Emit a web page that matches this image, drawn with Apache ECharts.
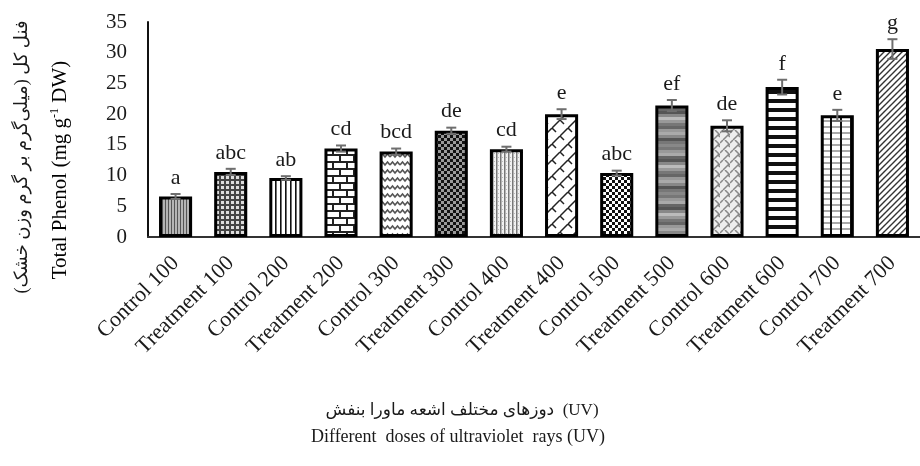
<!DOCTYPE html>
<html>
<head>
<meta charset="utf-8">
<script src="https://cdn.jsdelivr.net/npm/echarts@6/dist/echarts.min.js"></script>
<style>
html,body{margin:0;padding:0;background:#fff;}
#chart{width:920px;height:466px;}
</style>
</head>
<body>
<div id="chart"></div>
<script>
// ---- data ----
const categories = ['Control 100','Treatment 100','Control 200','Treatment 200','Control 300','Treatment 300','Control 400','Treatment 400','Control 500','Treatment 500','Control 600','Treatment 600','Control 700','Treatment 700'];
const values = [6.6, 10.6, 9.6, 14.4, 13.9, 17.3, 14.3, 20.0, 10.4, 21.4, 18.1, 24.4, 19.8, 30.6];
const errors = [0.4, 0.5, 0.3, 0.5, 0.5, 0.5, 0.4, 0.8, 0.4, 0.9, 0.9, 1.2, 0.9, 1.6];
const letters = ['a','abc','ab','cd','bcd','de','cd','e','abc','ef','de','f','e','g'];
const yTicks = [0, 5, 10, 15, 20, 25, 30, 35];

// ---- pattern fills ----
function mk(w, h, draw) {
  const c = document.createElement('canvas');
  c.width = w; c.height = h;
  const g = c.getContext('2d');
  draw(g, w, h);
  return { image: c, repeat: 'repeat' };
}
const patterns = [
  mk(3, 4, (g) => { g.fillStyle = '#b5b5b5'; g.fillRect(0,0,3,4); g.fillStyle = '#555'; g.fillRect(0,0,1,4); }),
  mk(5, 5, (g) => { g.fillStyle = '#444'; g.fillRect(0,0,5,5); g.fillStyle = '#ddd'; g.fillRect(1,1,3,3); }),
  mk(5, 4, (g) => { g.fillStyle = '#fff'; g.fillRect(0,0,5,4); g.fillStyle = '#111'; g.fillRect(0,0,1.6,4); }),
  mk(14, 14, (g) => { g.fillStyle = '#fff'; g.fillRect(0,0,14,14); g.fillStyle = '#222';
     g.fillRect(0,0,14,2); g.fillRect(0,7,14,2); g.fillRect(3,2,2,5); g.fillRect(10,9,2,5); }),
  mk(10, 8, (g) => { g.fillStyle = '#fff'; g.fillRect(0,0,10,8); g.strokeStyle = '#555'; g.lineWidth = 1.6;
     g.beginPath(); g.moveTo(0,5); g.lineTo(2.5,2); g.lineTo(5,5); g.lineTo(7.5,2); g.lineTo(10,5); g.stroke(); }),
  mk(6, 6, (g) => { g.fillStyle = '#111'; g.fillRect(0,0,6,6); g.fillStyle = '#9a9a9a'; g.fillRect(0,0,3,3); g.fillRect(3,3,3,3); }),
  mk(4, 4, (g) => { g.fillStyle = '#f2f2f2'; g.fillRect(0,0,4,4); g.fillStyle = '#777'; g.fillRect(0,0,1.5,4); g.fillStyle='#bbb'; g.fillRect(2,1,1,1); }),
  mk(16, 16, (g) => { g.fillStyle = '#fff'; g.fillRect(0,0,16,16); g.strokeStyle = '#222'; g.lineWidth = 1.5;
     g.beginPath(); g.moveTo(0,8); g.lineTo(8,0); g.moveTo(8,16); g.lineTo(16,8);
     g.moveTo(8,0); g.lineTo(12,4); g.moveTo(0,8); g.lineTo(4,12); g.stroke(); }),
  mk(6, 6, (g) => { g.fillStyle = '#fff'; g.fillRect(0,0,6,6); g.fillStyle = '#111'; g.fillRect(0,0,3,3); g.fillRect(3,3,3,3); }),
  mk(4, 48, (g) => { const s = ['#888','#777','#999','#aaa','#666','#555','#888','#bbb','#999','#777','#666','#999','#aaa','#888','#555','#777'];
     s.forEach((col, k) => { g.fillStyle = col; g.fillRect(0, k*3, 4, 3); }); }),
  mk(10, 10, (g) => { g.fillStyle = '#eee'; g.fillRect(0,0,10,10); g.strokeStyle = '#888'; g.lineWidth = 1.5;
     g.beginPath(); g.moveTo(0,3); g.lineTo(3,0); g.moveTo(3,10); g.lineTo(8,5); g.lineTo(10,7); g.moveTo(5,0); g.lineTo(10,5); g.stroke(); }),
  mk(4, 9, (g) => { g.fillStyle = '#fff'; g.fillRect(0,0,4,9); g.fillStyle = '#111'; g.fillRect(0,0,4,4); }),
  mk(10, 6, (g) => { g.fillStyle = '#fff'; g.fillRect(0,0,10,6); g.fillStyle = '#aaa'; g.fillRect(0,0,10,2);
     g.fillStyle = '#111'; g.fillRect(0,0,2,6); }),
  mk(6, 6, (g) => { g.fillStyle = '#fff'; g.fillRect(0,0,6,6); g.strokeStyle = '#333'; g.lineWidth = 1.4;
     g.beginPath(); g.moveTo(-1,7); g.lineTo(7,-1); g.moveTo(-1,1); g.lineTo(1,-1); g.moveTo(5,7); g.lineTo(7,5); g.stroke(); })
];

const serif = '"Liberation Serif", "Times New Roman", serif';
const persian = '"Liberation Serif", "DejaVu Sans", sans-serif';

const chart = echarts.init(document.getElementById('chart'), null, { renderer: 'canvas' });
chart.setOption({
  backgroundColor: '#fff',
  animation: false,
  grid: { left: 148, top: 22, bottom: 229, width: 780, containLabel: false },
  xAxis: {
    type: 'category',
    data: categories,
    axisLine: { lineStyle: { color: '#333', width: 2 } },
    axisTick: { show: false },
    axisLabel: { rotate: 45, margin: 23, fontFamily: serif, fontSize: 22, color: '#1a1a1a', interval: 0 }
  },
  yAxis: {
    type: 'value',
    min: yTicks[0], max: yTicks[yTicks.length - 1], interval: yTicks[1] - yTicks[0],
    splitLine: { show: false },
    axisLine: { show: true, lineStyle: { color: '#111', width: 2 } },
    axisTick: { show: false },
    axisLabel: { margin: 21, fontFamily: serif, fontSize: 21, color: '#1a1a1a' }
  },
  series: [
    {
      type: 'bar',
      barWidth: '60%',
      data: values.map((v, i) => ({
        value: v,
        itemStyle: { color: patterns[i], borderColor: '#000', borderWidth: 3 }
      }))
    },
    {
      type: 'custom',
      data: values.map((v, i) => [i, v, errors[i]]),
      renderItem: function (params, api) {
        const i = api.value(0), v = api.value(1), e = api.value(2);
        const top = api.coord([i, v + e]);
        const bot = api.coord([i, v - e]);
        const half = 5;
        const st = { stroke: '#6e6e6e', lineWidth: 2 };
        return {
          type: 'group',
          children: [
            { type: 'line', shape: { x1: top[0], y1: top[1], x2: bot[0], y2: bot[1] }, style: st },
            { type: 'line', shape: { x1: top[0] - half, y1: top[1], x2: top[0] + half, y2: top[1] }, style: st },
            { type: 'line', shape: { x1: bot[0] - half, y1: bot[1], x2: bot[0] + half, y2: bot[1] }, style: st },
            { type: 'text', x: top[0], y: top[1] - 5,
              style: { text: letters[i], textAlign: 'center', textVerticalAlign: 'bottom',
                       font: '22px ' + serif, fill: '#1a1a1a' } }
          ]
        };
      },
      z: 5
    }
  ],
  graphic: [
    { type: 'text', x: 22, y: 157, rotation: Math.PI / 2,
      style: { text: 'فنل کل (میلی‌گرم بر گرم وزن خشک)', font: '18px ' + persian, fill: '#1a1a1a',
               textAlign: 'center', textVerticalAlign: 'middle' } },
    { type: 'text', x: 60, y: 170, rotation: Math.PI / 2,
      style: { text: '{n|Total Phenol (mg g}{s|-1}{n| DW)}', textAlign: 'center', textVerticalAlign: 'middle',
               rich: { n: { fontFamily: serif, fontSize: 21, color: '#1a1a1a' },
                       s: { fontFamily: serif, fontSize: 12, color: '#1a1a1a', verticalAlign: 'top', padding: [0, 0, 10, 0] } } } },
    { type: 'text', x: 462, y: 411,
      style: { text: 'دوزهای مختلف اشعه ماورا بنفش  (UV)', font: '17px ' + persian, fill: '#1a1a1a',
               textAlign: 'center', textVerticalAlign: 'middle' } },
    { type: 'text', x: 458, y: 437,
      style: { text: 'Different  doses of ultraviolet  rays (UV)', font: '18px ' + serif, fill: '#1a1a1a',
               textAlign: 'center', textVerticalAlign: 'middle' } }
  ]
});
</script>
</body>
</html>
